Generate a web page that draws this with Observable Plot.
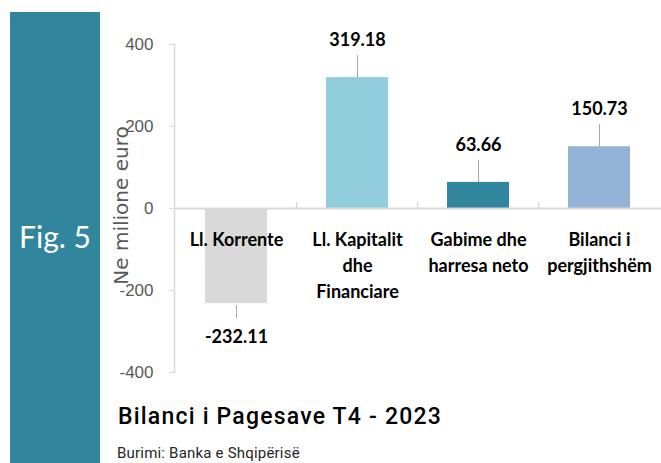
<!DOCTYPE html>
<html><head><meta charset="utf-8">
<script src="https://cdn.jsdelivr.net/npm/d3@7"></script>
<script src="https://cdn.jsdelivr.net/npm/@observablehq/plot@0.6"></script>
<style>
body{margin:0;background:#fff;}
#wrap{position:relative;width:661px;height:463px;overflow:hidden;background:#fff;}
#band{position:absolute;left:10px;top:12px;width:90px;height:451px;background:#31859c;}
#fig{position:absolute;left:10px;width:90px;top:221px;text-align:center;color:#fff;font-family:Lato,sans-serif;font-size:30px;line-height:1;white-space:nowrap;}
#chart{position:absolute;left:0;top:0;}
#title{position:absolute;left:118px;top:405px;font-family:Roboto,"Liberation Sans",sans-serif;font-weight:500;font-size:23px;line-height:1;letter-spacing:1.2px;color:#000;white-space:nowrap;}
#caption{position:absolute;left:117px;top:446px;font-family:Roboto,"Liberation Sans",sans-serif;font-size:15px;line-height:1;letter-spacing:0.2px;color:#262626;white-space:nowrap;}
</style>
</head><body>
<div id="wrap">
  <div id="band"></div>
  <div id="fig">Fig. 5</div>
  <div id="chart"></div>
  <div id="title"></div>
  <div id="caption"></div>
</div>
<script>
const categories = ["Ll. Korrente", "Ll. Kapitalit\ndhe\nFinanciare", "Gabime dhe\nharresa neto", "Bilanci i\npergjithshëm"];
const values = [-232.11, 319.18, 63.66, 150.73];
const valueLabels = ["-232.11", "319.18", "63.66", "150.73"];
const colors = ["#d9d9d9", "#92cddc", "#31859c", "#95b3d7"];
const yTicks = [-400, -200, 0, 200, 400];
const yDomain = [-400, 400];
const yLabel = "Ne milione euro";
const titleText = "Bilanci i Pagesave T4 - 2023";
const captionText = "Burimi: Banka e Shqipërisë";

document.getElementById("title").textContent = titleText;
document.getElementById("caption").textContent = captionText;

const data = categories.map((c, i) => ({cat: c, value: values[i], label: valueLabels[i]}));
const pos = data.filter(d => d.value >= 0);
const neg = data.filter(d => d.value < 0);

const W = 661, H = 395, MT = 44, MB = 23, ML = 174, MR = 0;
const k = (H - MT - MB) / (yDomain[1] - yDomain[0]); // px per unit
const step = (W - ML - MR) / categories.length;

const labelFont = "Lato, sans-serif";

const chart = Plot.plot({
  width: W, height: H,
  marginTop: MT, marginBottom: MB, marginLeft: ML, marginRight: MR,
  style: {background: "transparent", overflow: "visible"},
  x: {domain: categories, axis: null, paddingInner: 0.49, paddingOuter: 0.245},
  y: {domain: yDomain, axis: null},
  color: {domain: categories, range: colors},
  marks: [
    Plot.barY(data, {x: "cat", y: "value", fill: "cat"}),
    Plot.ruleY([0], {stroke: "#d9d9d9", strokeWidth: 2}),
    Plot.frame({anchor: "left", stroke: "#d9d9d9", strokeWidth: 1.5}),
    Plot.ruleX(categories.slice(1), {x: d => d, dx: -step / 2, y1: 0, y2: 6 / k, stroke: "#d9d9d9", strokeWidth: 1.5}),
    Plot.axisY({ticks: yTicks, tickSize: 5, tickPadding: 16, tickFormat: d => String(d),
      stroke: "#d9d9d9", fill: "#595959", fontSize: 17, fontFamily: "Liberation Sans, Arial, sans-serif", label: null}),
    Plot.text([yLabel], {frameAnchor: "left", textAnchor: "middle", dx: -53, dy: -3, rotate: -90, fontSize: 20,
      fill: "#595959", fontFamily: "DejaVu Sans, sans-serif"}),
    Plot.text(data, {x: "cat", y: 0, text: "cat", lineAnchor: "top", dy: 19, lineHeight: 1.45,
      fontSize: 18, fontWeight: "bold", fontFamily: labelFont, fill: "#000"}),
    Plot.ruleX(pos, {x: "cat", y1: "value", y2: d => d.value + 22 / k, stroke: "#a6a6a6"}),
    Plot.ruleX(neg, {x: "cat", y1: d => d.value - 2 / k, y2: d => d.value - 15 / k, stroke: "#a6a6a6"}),
    Plot.text(pos, {x: "cat", y: "value", text: "label", dy: -37, fontSize: 18, fontWeight: "bold", fontFamily: labelFont, fill: "#000"}),
    Plot.text(neg, {x: "cat", y: "value", text: "label", dy: 34, fontSize: 18, fontWeight: "bold", fontFamily: labelFont, fill: "#000"})
  ]
});
document.getElementById("chart").appendChild(chart);
</script>
</body></html>
